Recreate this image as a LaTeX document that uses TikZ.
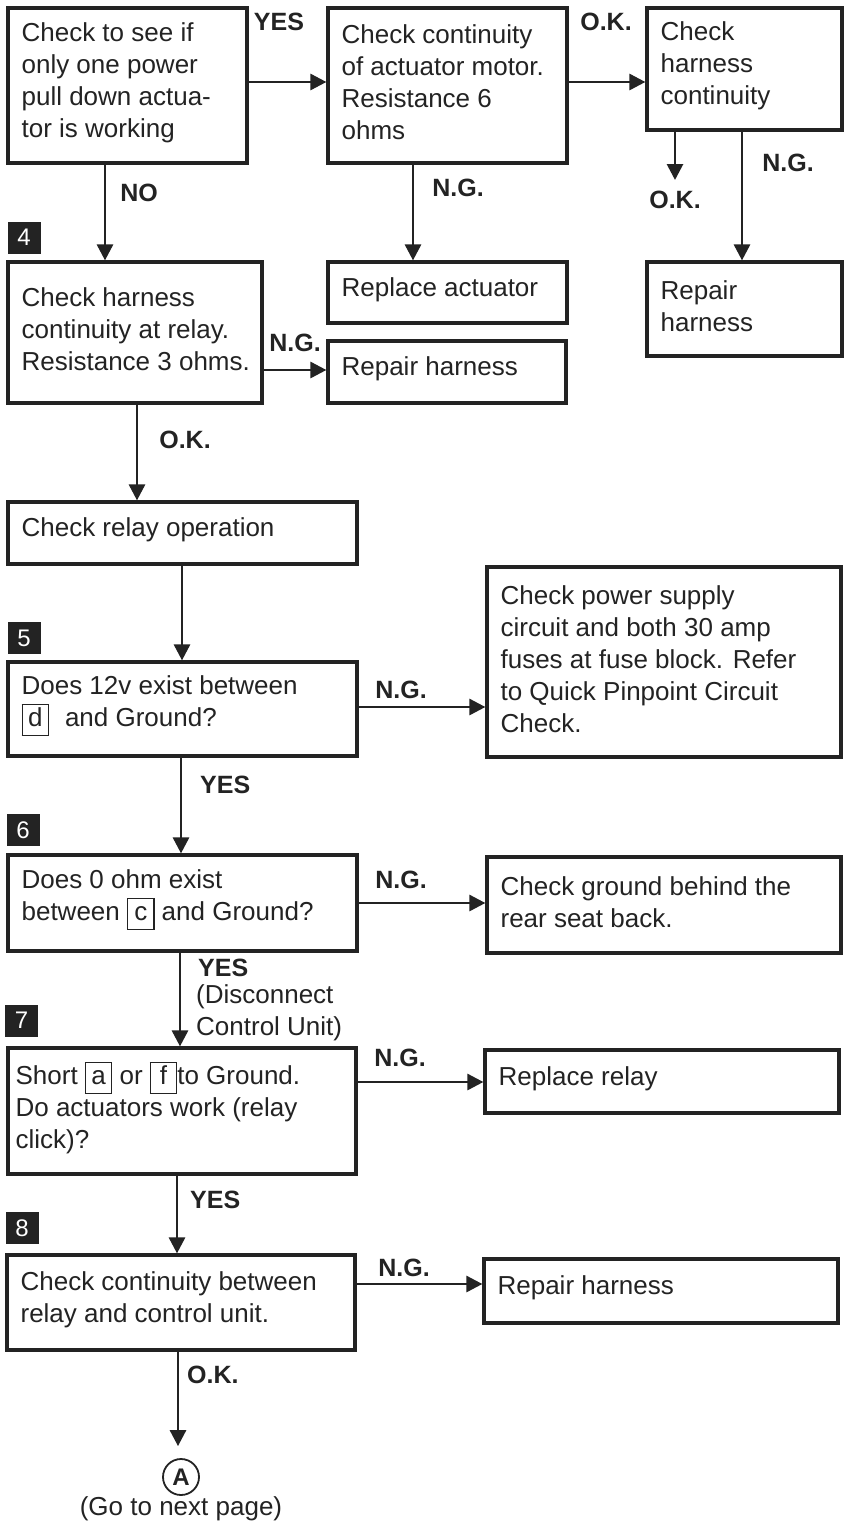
\documentclass[tikz,border=0pt]{standalone}
\usepackage{fontspec}
\setmainfont{Liberation Sans}
\usetikzlibrary{arrows.meta,calc}
\definecolor{ink}{RGB}{35,35,35}
\newcommand\kb[1]{{\setlength\fboxsep{3pt}\setlength\fboxrule{1.2pt}\fbox{\makebox[19pt]{\vphantom{(}#1}}}}
\newcommand\bx[7][15]{%
 \pgfmathsetmacro\bxw{#5-#3}\pgfmathsetmacro\bxh{#6-#4}%
 \pgfmathsetmacro\bxcx{(#3+#5)/2}\pgfmathsetmacro\bxcy{(#4+#6)/2}%
 \node[box,minimum width=\bxw pt,minimum height=\bxh pt] (#2) at (\bxcx,\bxcy) {};%
 \node[txt] (#2t) at ([xshift=#1pt,yshift=3pt]#2.west) {#7};}
\tikzset{
 box/.style={draw=ink, line width=3.2pt, inner sep=0pt, fill=white},
 txt/.style={text=ink, font=\fontsize{26}{32}\selectfont, align=left, inner sep=0pt, anchor=west},
 lbl/.style={text=ink, font=\bfseries\fontsize{25}{30}\selectfont, inner sep=0pt},
 arr/.style={draw=ink, line width=2.8pt, -{Triangle[length=16pt,width=16pt]}},
 stepnum/.style={fill=ink, text=white, font=\fontsize{24}{24}\selectfont, minimum width=33pt, minimum height=32pt, inner sep=0pt},
}
\begin{document}
\begin{tikzpicture}[x=1pt,y=-1pt]
\fill[white] (0,0) rectangle (850,1524);
\useasboundingbox (0,0) rectangle (850,1524);
% boxes
\bx{b1}{8}{8}{247}{163}{Check to see if\\only one power\\pull down actua-\\tor is working}
\bx{b2}{328}{8}{567}{163}{Check continuity\\of actuator motor.\\Resistance 6\\ohms}
\bx{b3}{647}{8}{842}{130}{Check\\harness\\continuity}
\bx{ra}{328}{262}{567}{323}{Replace actuator}
\bx{rh1}{647}{262}{842}{356}{Repair\\harness}
\bx{b4}{8}{262}{262}{403}{Check harness\\continuity at relay.\\Resistance 3 ohms.}
\bx{rh2}{328}{341}{566}{403}{Repair harness}
\bx{rel}{8}{502}{357}{564}{Check relay operation}
\bx{b5}{8}{662}{357}{756}{Does 12v exist between\\\kb{d}\hspace{16pt}and Ground?}
\bx{ps}{487}{567}{841}{757}{Check power supply\\circuit and both 30 amp\\fuses at fuse block. Refer\\to Quick Pinpoint Circuit\\Check.}
\bx{b6}{8}{855}{357}{951}{Does 0 ohm exist\\between \kb{c} and Ground?}
\bx{gnd}{487}{857}{841}{953}{Check ground behind the\\rear seat back.}
\bx[9]{b7}{8}{1048}{356}{1174}{Short \kb{a} or \kb{f}to Ground.\\Do actuators work (relay\\click)?}
\bx{rr}{485}{1050}{839}{1113}{Replace relay}
\bx{b8}{7}{1255}{355}{1350}{Check continuity between\\relay and control unit.}
\bx{rh3}{484}{1259}{838}{1323}{Repair harness}
% step numbers
\node[stepnum] (s4) at (24,237.5) {4};
\node[stepnum] (s5) at (24,638) {5};
\node[stepnum] (s6) at (23,830) {6};
\node[stepnum] (s7) at (21.5,1020.5) {7};
\node[stepnum] (s8) at (22,1228) {8};
% end marker
\node[circle, draw=ink, line width=1.8pt, minimum size=36pt, inner sep=0pt, text=ink, font=\bfseries\fontsize{24}{24}\selectfont] (circA) at (181,1477) {A};
\node[txt, anchor=center] (gonext) at (181,1509) {(Go to next page)};
% helper coordinates
\coordinate (h1) at (0,82);
\coordinate (h2) at (0,370);
\coordinate (h3) at (0,707);
\coordinate (h4) at (0,903);
\coordinate (h5) at (0,1082);
\coordinate (h6) at (0,1284);
\coordinate (v1) at (105,0);
\coordinate (v2) at (413,0);
\coordinate (v3) at (675,0);
\coordinate (v4) at (742,0);
\coordinate (v5) at (137,0);
\coordinate (v6) at (182,0);
\coordinate (v7) at (181,0);
\coordinate (v8) at (180,0);
\coordinate (v9) at (177,0);
\coordinate (v10) at (178,0);
\coordinate (okend) at (675,180);
% connectors
\draw[arr] (b1.east |- h1) -- (b2.west |- h1);
\draw[arr] (b2.east |- h1) -- (b3.west |- h1);
\draw[arr] (b4.east |- h2) -- (rh2.west |- h2);
\draw[arr] (b5.east |- h3) -- (ps.west |- h3);
\draw[arr] (b6.east |- h4) -- (gnd.west |- h4);
\draw[arr] (b7.east |- h5) -- (rr.west |- h5);
\draw[arr] (b8.east |- h6) -- (rh3.west |- h6);
\draw[arr] (b1.south -| v1) -- (b4.north -| v1);
\draw[arr] (b2.south -| v2) -- (ra.north -| v2);
\draw[arr] (b3.south -| v3) -- (okend);
\draw[arr] (b3.south -| v4) -- (rh1.north -| v4);
\draw[arr] (b4.south -| v5) -- (rel.north -| v5);
\draw[arr] (rel.south -| v6) -- (b5.north -| v6);
\draw[arr] (b5.south -| v7) -- (b6.north -| v7);
\draw[arr] (b6.south -| v8) -- (b7.north -| v8);
\draw[arr] (b7.south -| v9) -- (b8.north -| v9);
\draw[arr, shorten >=12pt] (b8.south -| v10) -- (v10 |- circA.north);
% labels
\node[lbl] (l1) at (279,22) {YES};
\node[lbl] (l2) at (606,22) {O.K.};
\node[lbl] (l3) at (139,193) {NO};
\node[lbl] (l4) at (458,188) {N.G.};
\node[lbl] (l5) at (788,163) {N.G.};
\node[lbl] (l6) at (675,200) {O.K.};
\node[lbl] (l7) at (295,343) {N.G.};
\node[lbl] (l8) at (185,440) {O.K.};
\node[lbl] (l9) at (401,690) {N.G.};
\node[lbl,anchor=west] (l10) at (200,785) {YES};
\node[lbl] (l11) at (401,880) {N.G.};
\node[lbl,anchor=west] (l12) at (198,968) {YES};
\node[txt,anchor=west] (l13) at (196,1013) {(Disconnect\\Control Unit)};
\node[lbl] (l14) at (400,1058) {N.G.};
\node[lbl,anchor=west] (l15) at (190,1200) {YES};
\node[lbl] (l16) at (404,1268) {N.G.};
\node[lbl,anchor=west] (l17) at (187,1375) {O.K.};
\end{tikzpicture}
\end{document}
